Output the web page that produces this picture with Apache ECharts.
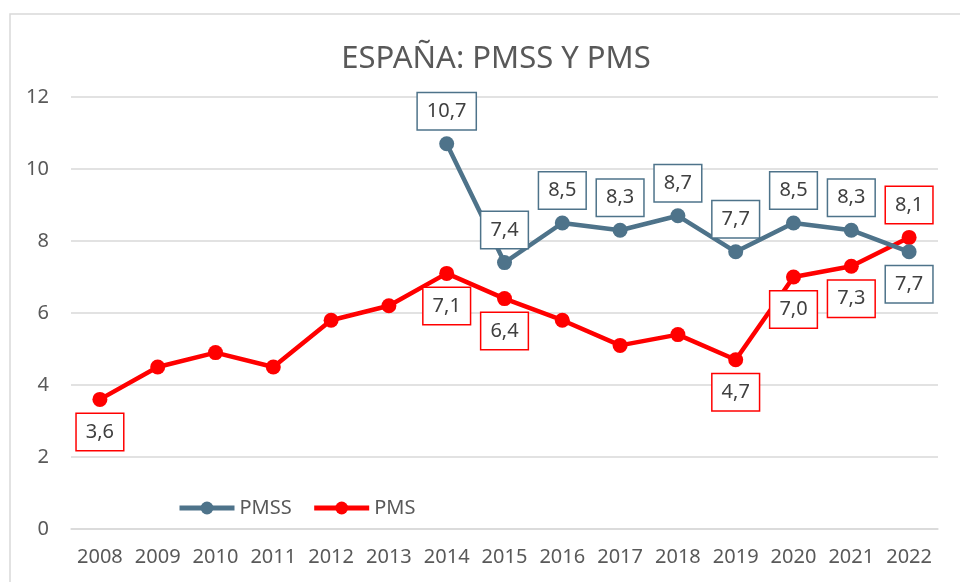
<!DOCTYPE html>
<html>
<head>
<meta charset="utf-8">
<script src="https://cdn.jsdelivr.net/npm/echarts@6/dist/echarts.min.js"></script>
<style>html,body{margin:0;padding:0;background:#fff}#c{width:960px;height:582px}</style>
</head>
<body>
<div id="c"></div>
<script>
const years = ['2008','2009','2010','2011','2012','2013','2014','2015','2016','2017','2018','2019','2020','2021','2022'];
const pmss = [null,null,null,null,null,null,10.7,7.4,8.5,8.3,8.7,7.7,8.5,8.3,7.7];
const pms = [3.6,4.5,4.9,4.5,5.8,6.2,7.1,6.4,5.8,5.1,5.4,4.7,7.0,7.3,8.1];
const yTicks = [0,2,4,6,8,10,12];

// label placement per point (display config)
const pmssLabelPos = ['', '', '', '', '', '', 'top','top','top','top','top','top','top','top','bottom'];
const pmsLabelPos = ['bottom','','','','','','bottom','bottom','','','','bottom','bottom','bottom','top'];

const fmt = v => v.toFixed(1).replace('.', ',');
const FONT = 'Noto Sans';
const C_PMSS = '#4e738a';
const C_PMS = '#ff0000';

function build(vals, pos, color) {
  return vals.map((v, i) => {
    if (v === null) return null;
    const p = pos[i];
    return {
      value: v,
      label: p ? {
        show: true, position: p, distance: 7,
        formatter: () => fmt(v),
        backgroundColor: '#ffffff', borderColor: color, borderWidth: 1.5,
        padding: [8, 9], color: '#404040', fontSize: 20, fontFamily: FONT, lineHeight: 20
      } : { show: false }
    };
  });
}

const chart = echarts.init(document.getElementById('c'));
chart.setOption({
  animation: false,
  textStyle: { fontFamily: FONT },
  graphic: [{
    type: 'rect', shape: { x: 10, y: 14, width: 980, height: 600 },
    style: { fill: 'none', stroke: '#d9d9d9', lineWidth: 1.5 }, silent: true, z: -1
  }],
  title: {
    text: 'ESPAÑA: PMSS Y PMS', left: 491, textAlign: 'center', top: 39,
    textStyle: { fontFamily: FONT, fontSize: 31, fontWeight: 'normal', color: '#595959' }
  },
  legend: {
    left: 172, top: 493, itemWidth: 55, itemHeight: 16, itemGap: 20,
    lineStyle: { width: 5 },
    textStyle: { fontSize: 20, color: '#595959', fontFamily: FONT },
    data: ['PMSS', 'PMS']
  },
  grid: { left: 71, right: 22, top: 97, bottom: 53 },
  xAxis: {
    type: 'category', data: years,
    axisTick: { show: false },
    axisLine: { lineStyle: { color: '#d9d9d9', width: 1.5 } },
    axisLabel: { color: '#595959', fontSize: 20, margin: 18, fontFamily: FONT, interval: 0 }
  },
  yAxis: {
    type: 'value', min: yTicks[0], max: yTicks[yTicks.length - 1], interval: 2,
    axisLine: { show: false }, axisTick: { show: false },
    splitLine: { lineStyle: { color: '#d9d9d9', width: 1.5 } },
    axisLabel: { color: '#595959', fontSize: 20, margin: 22, fontFamily: FONT }
  },
  series: [
    {
      name: 'PMSS', type: 'line', data: build(pmss, pmssLabelPos, C_PMSS),
      symbol: 'circle', symbolSize: 15, color: C_PMSS,
      lineStyle: { width: 4.5, color: C_PMSS }, itemStyle: { color: C_PMSS }, z: 3
    },
    {
      name: 'PMS', type: 'line', data: build(pms, pmsLabelPos, C_PMS),
      symbol: 'circle', symbolSize: 15, color: C_PMS,
      lineStyle: { width: 4.5, color: C_PMS }, itemStyle: { color: C_PMS }, z: 2
    }
  ]
});
</script>
</body>
</html>
